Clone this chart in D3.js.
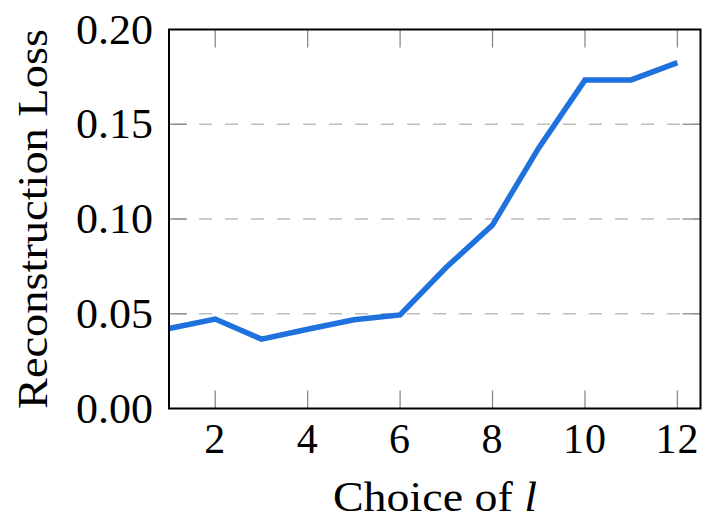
<!DOCTYPE html>
<html>
<head>
<meta charset="utf-8">
<script src="https://cdn.jsdelivr.net/npm/d3@7"></script>
<style>
  body { margin: 0; background: #fff; }
  text { font-family: "Liberation Serif", "DejaVu Serif", serif; fill: #000; }
</style>
</head>
<body>
<script>
// data
var layers = [1, 2, 3, 4, 5, 6, 7, 8, 9, 10, 11, 12];
var loss = [0.0422, 0.0472, 0.0366, 0.0418, 0.0468, 0.0494, 0.0745, 0.0968, 0.1375, 0.1733, 0.1734, 0.1825];
var xTicks = [2, 4, 6, 8, 10, 12];
var yTicks = [0, 0.05, 0.10, 0.15, 0.20];
var gridLines = [0.05, 0.10, 0.15];

var width = 715, height = 529;
// note: "top" is reserved on window, so plot edges get their own names
var plotLeft = 169, plotRight = 700.5, plotTop = 29.5, plotBottom = 408.5;
var fontSize = 42;

var svg = d3.select('body').append('svg')
	.attr('width', width)
	.attr('height', height);

var x = d3.scaleLinear().domain([1, 12.5]).range([plotLeft, plotRight]);
var y = d3.scaleLinear().domain([0, 0.2]).range([plotBottom, plotTop]);

// dashed grid
svg.append('g').selectAll('line')
	.data(gridLines)
	.enter()
	.append('line')
	.attr('x1', plotLeft)
	.attr('x2', plotRight)
	.attr('y1', function(d) { return y(d); })
	.attr('y2', function(d) { return y(d); })
	.attr('stroke', '#bdbdbd')
	.attr('stroke-width', 1.6)
	.attr('stroke-dasharray', '13,13')
	.attr('stroke-dashoffset', -4);

// inward ticks, bottom/top and left/right
var tickLen = 18;
var ticks = svg.append('g').attr('stroke', '#8a8a8a').attr('stroke-width', 1.3);
xTicks.forEach(function(t) {
	ticks.append('line').attr('x1', x(t)).attr('x2', x(t)).attr('y1', plotBottom).attr('y2', plotBottom - tickLen);
	ticks.append('line').attr('x1', x(t)).attr('x2', x(t)).attr('y1', plotTop).attr('y2', plotTop + tickLen);
});
gridLines.forEach(function(t) {
	ticks.append('line').attr('x1', plotLeft).attr('x2', plotLeft + tickLen).attr('y1', y(t)).attr('y2', y(t));
	ticks.append('line').attr('x1', plotRight).attr('x2', plotRight - tickLen).attr('y1', y(t)).attr('y2', y(t));
});

// the line
var line = d3.line()
	.x(function(d, i) { return x(layers[i]); })
	.y(function(d) { return y(d); });

svg.append('path')
	.datum(loss)
	.attr('d', line)
	.attr('fill', 'none')
	.attr('stroke', '#1f72de')
	.attr('stroke-width', 5.5)
	.attr('stroke-linejoin', 'miter');

// frame
svg.append('rect')
	.attr('x', plotLeft)
	.attr('y', plotTop)
	.attr('width', plotRight - plotLeft)
	.attr('height', plotBottom - plotTop)
	.attr('fill', 'none')
	.attr('stroke', '#000')
	.attr('stroke-width', 2);

// tick labels
svg.append('g').selectAll('text')
	.data(xTicks)
	.enter()
	.append('text')
	.attr('x', function(d) { return x(d); })
	.attr('y', 453)
	.attr('text-anchor', 'middle')
	.style('font-size', fontSize + 'px')
	.style('letter-spacing', '1px')
	.text(function(d) { return d; });

svg.append('g').selectAll('text')
	.data(yTicks)
	.enter()
	.append('text')
	.attr('x', 153)
	.attr('y', function(d) { return y(d) + 14; })
	.attr('text-anchor', 'end')
	.attr('textLength', 77)
	.attr('lengthAdjust', 'spacingAndGlyphs')
	.style('font-size', fontSize + 'px')
	.text(function(d) { return d.toFixed(2); });

// axis titles
var xt = svg.append('text')
	.attr('x', 333)
	.attr('y', 511)
	.attr('textLength', 204)
	.attr('lengthAdjust', 'spacingAndGlyphs')
	.style('font-size', (fontSize + 1) + 'px');
xt.append('tspan').text('Choice of ');
xt.append('tspan').style('font-style', 'italic').text('l');

svg.append('text')
	.attr('transform', 'translate(47,' + ((plotTop + plotBottom) / 2) + ') rotate(-90)')
	.attr('text-anchor', 'middle')
	.attr('textLength', 380)
	.attr('lengthAdjust', 'spacingAndGlyphs')
	.style('font-size', (fontSize + 1) + 'px')
	.text('Reconstruction Loss');
</script>
</body>
</html>
